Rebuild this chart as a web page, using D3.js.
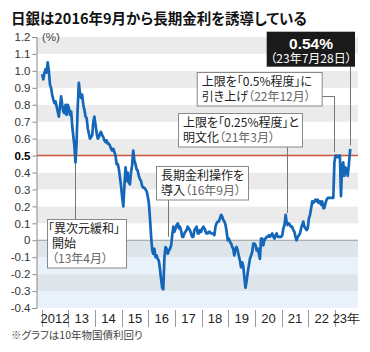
<!DOCTYPE html>
<html><head><meta charset="utf-8">
<script src="https://cdn.jsdelivr.net/npm/d3@7"></script>
<style>
body{margin:0;background:#fff;}
svg{display:block;font-family:"Noto Sans CJK JP","Liberation Sans",sans-serif;}
.jp{font-feature-settings:"palt";}
</style></head><body>
<svg id="c" width="370" height="352"></svg>
<script>
// ---- data ----
const titleText = "日銀は2016年9月から長期金利を誘導している";
const noteText = "※グラフは10年物国債利回り";
const yearLabels = ["2012","13","14","15","16","17","18","19","20","21","22","23年"];
const yTickValues = [1.2,1.1,1.0,0.9,0.8,0.7,0.6,0.5,0.4,0.3,0.2,0.1,0,-0.1,-0.2,-0.3,-0.4];
const yTickLabels = ["1.2","1.1","1.0","0.9","0.8","0.7","0.6","0.5","0.4","0.3","0.2","0.1","0","-0.1","-0.2","-0.3","-0.4"];
const capValue = 0.5;
// half-monthly 10y JGB yield (%)
const y2012 = [0.98,0.95,0.99,1.01,0.99,1.05,1.00,0.92,0.90,0.86,0.83,0.81,0.82,0.79,0.76,0.73,0.79,0.85,0.80,0.76,0.75,0.80,0.74,0.80];
const y2013 = [0.78,0.74,0.76,0.67,0.62,0.56,0.46,0.58,0.78,0.93,0.87,0.84,0.86,0.80,0.77,0.73,0.72,0.66,0.63,0.60,0.61,0.62,0.70,0.73];
const y2014 = [0.68,0.63,0.60,0.61,0.63,0.64,0.62,0.61,0.59,0.58,0.59,0.57,0.57,0.56,0.54,0.53,0.54,0.52,0.50,0.45,0.45,0.42,0.37,0.32];
const y2015 = [0.25,0.20,0.33,0.43,0.35,0.40,0.34,0.33,0.40,0.44,0.53,0.47,0.45,0.42,0.41,0.38,0.36,0.35,0.32,0.31,0.31,0.30,0.29,0.26];
const y2016 = [0.22,0.13,0.02,-0.06,-0.08,-0.05,-0.10,-0.09,-0.11,-0.12,-0.17,-0.23,-0.28,-0.29,-0.10,-0.04,-0.05,-0.08,-0.06,-0.05,-0.03,0.03,0.08,0.05];
const y2017 = [0.07,0.09,0.10,0.07,0.08,0.06,0.02,0.02,0.04,0.05,0.06,0.08,0.07,0.06,0.04,0.02,0.02,0.06,0.07,0.08,0.04,0.04,0.06,0.05];
const y2018 = [0.07,0.08,0.07,0.05,0.04,0.04,0.05,0.05,0.04,0.04,0.04,0.03,0.08,0.10,0.11,0.11,0.13,0.15,0.14,0.12,0.11,0.09,0.05,0.00];
const y2019 = [0.01,-0.01,-0.02,-0.04,-0.05,-0.09,-0.05,-0.04,-0.06,-0.09,-0.12,-0.16,-0.13,-0.15,-0.22,-0.28,-0.24,-0.19,-0.15,-0.11,-0.09,-0.07,-0.02,-0.02];
const y2020 = [-0.03,-0.06,-0.05,-0.08,-0.11,0.01,0.01,-0.03,0.00,0.01,0.02,0.02,0.03,0.02,0.03,0.04,0.02,0.01,0.03,0.04,0.02,0.02,0.02,0.02];
const y2021 = [0.03,0.07,0.09,0.15,0.11,0.09,0.10,0.09,0.08,0.08,0.06,0.05,0.02,0.00,0.02,0.03,0.04,0.07,0.09,0.11,0.08,0.07,0.06,0.07];
const y2022 = [0.13,0.15,0.19,0.23,0.22,0.23,0.24,0.23,0.24,0.22,0.23,0.21,0.23,0.19,0.19,0.22,0.24,0.25,0.25,0.25,0.25,0.25,0.25,0.46];
const y2023 = [0.50,0.50,0.49,0.50,0.50,0.26,0.44,0.46,0.38,0.43,0.42,0.38,0.44,0.54];
const yearly = [y2012,y2013,y2014,y2015,y2016,y2017,y2018,y2019,y2020,y2021,y2022,y2023];
const lastDate = new Date(2023,6,28);

const notes = [
  {box:[47,219,79], lines:[["「異次元緩和」",""],["開始",""],["","（13年4月）"]], date:new Date(2013,3,5), value:0.47, kind:"up"},
  {box:[156,166,92], lines:[["長期金利操作を",""],["導入","（16年9月）"]], date:new Date(2016,8,21), value:0.02, kind:"down"},
  {box:[178,113,124], lines:[["上限を「0.25%程度」と",""],["明文化","（21年3月）"]], date:new Date(2021,2,19), value:0.16, kind:"down"},
  {box:[196.7,72,125], lines:[["上限を「0.5%程度」に",""],["引き上げ","（22年12月）"]], date:new Date(2022,11,20), value:0.52, kind:"side"}
];
const highlight = {value:"0.54%", date:"（23年7月28日）", when:lastDate, v:0.56};

// ---- build series ----
const series = [];
yearly.forEach((arr, yi) => {
  arr.forEach((v, i) => {
    let d = new Date(2012 + yi, Math.floor(i/2), i % 2 ? 23 : 8);
    if (yi === yearly.length - 1 && i === arr.length - 1) d = lastDate;
    series.push({d, v});
  });
});

const svg = d3.select("#c");
const L = 37, R = 358, T = 37, B = 308;
const LS = 15; // line spacing in boxes
const x = d3.scaleTime().domain([new Date(2012,0,1), new Date(2024,0,1)]).range([41.7, 361.7]);
const y = d3.scaleLinear().domain([-0.4, 1.2]).range([B, T]);

// bands
const bandStarts = d3.range(-4, 12).map(k => k/10);
svg.append("g").selectAll("rect").data(bandStarts).join("rect")
  .attr("x", L).attr("width", R - L)
  .attr("y", d => y(d + 0.1)).attr("height", d => y(d) - y(d + 0.1))
  .attr("fill", d => {
    const k = Math.round(d*10);
    if (k < 0) return (Math.abs(k) % 2 === 1) ? "#dde4ea" : "#e9f2fa";
    return (k % 2 === 1) ? "#ebebeb" : "#ffffff";
  });

// zero line
svg.append("line").attr("x1", L).attr("x2", R).attr("y1", y(0)).attr("y2", y(0))
  .attr("stroke", "#999").attr("stroke-width", 1);

// y axis
const yAxis = d3.axisLeft(y).tickValues(yTickValues).tickSize(4).tickPadding(2)
  .tickFormat((d,i) => yTickLabels[i]);
const gy = svg.append("g").attr("transform", `translate(${L - 0.5},0)`).call(yAxis);
gy.select(".domain").attr("stroke", "#888");
gy.selectAll(".tick line").attr("stroke", "#888");
gy.selectAll(".tick text")
  .style("font-family", "'Liberation Sans',Arial,sans-serif").style("font-size", "11.5px")
  .style("font-weight", d => d === capValue ? "bold" : "normal")
  .attr("fill", d => d === capValue ? "#000" : "#333");

svg.append("text").attr("x", 42).attr("y", y(1.2) + 4).attr("fill", "#444")
  .style("font-family", "'Liberation Sans',Arial,sans-serif").style("font-size", "11.5px").text("(%)");

// x axis
const yearStarts = yearLabels.map((_, i) => new Date(2012 + i, 0, 1));
const gx = svg.append("g");
gx.selectAll("line").data(yearStarts).join("line")
  .attr("x1", d => Math.round(x(d)) + 0.5).attr("x2", d => Math.round(x(d)) + 0.5)
  .attr("y1", 310).attr("y2", 327).attr("stroke", "#999");
gx.selectAll("text").data(yearLabels).join("text")
  .attr("x", (d,i) => (x(new Date(2012+i,0,1)) + x(new Date(2013+i,0,1)))/2 - (i === 11 ? 2 : 0))
  .attr("y", 323).attr("text-anchor", "middle").attr("fill", "#222")
  .style("font-family", "'Liberation Sans Narrow','Liberation Sans',Arial,sans-serif")
  .style("font-size", "13px").text(d => d);

// cap line
svg.append("line").attr("x1", L).attr("x2", R).attr("y1", y(capValue)).attr("y2", y(capValue))
  .attr("stroke", "#c9553a").attr("stroke-width", 1.5);

// annotation connectors
const boxH = n => 14 + (n.lines.length - 1) * LS + 4.5;
const conn = svg.append("g").attr("stroke", "#777").attr("fill", "none").attr("stroke-width", 1);
notes.forEach(n => {
  const [bx, by, bw] = n.box;
  const bh = boxH(n);
  const xx = Math.round(x(n.date)) + 0.5;
  if (n.kind === "up") conn.append("line").attr("x1", xx).attr("x2", xx).attr("y1", by).attr("y2", y(n.value));
  if (n.kind === "down") conn.append("line").attr("x1", xx).attr("x2", xx).attr("y1", by + bh).attr("y2", y(n.value));
  if (n.kind === "side") conn.append("path").attr("d", `M${bx + bw},${by + 24.5}H${xx}V${y(n.value)}`);
});
const hx = Math.round(x(highlight.when)) + 0.5;
conn.append("line").attr("x1", hx).attr("x2", hx).attr("y1", 66.7).attr("y2", y(highlight.v));

// line
svg.append("path").datum(series)
  .attr("d", d3.line().x(d => x(d.d)).y(d => y(d.v)))
  .attr("fill", "none").attr("stroke", "#1466b8").attr("stroke-width", 2.7)
  .attr("stroke-linejoin", "round");

// boxes (one text element per box, lines as tspans)
notes.forEach(n => {
  const [bx, by, bw] = n.box;
  const bh = boxH(n);
  const g = svg.append("g");
  g.append("rect").attr("x", bx + 0.5).attr("y", by + 0.5).attr("width", bw).attr("height", bh)
    .attr("fill", "#fff").attr("stroke", "#888");
  const t = g.append("text").attr("class", "jp").style("font-size", "12px");
  n.lines.forEach((ln, i) => {
    const lx = bx + 5 + (ln[0].startsWith("「") ? -4 : 0);
    const ly = by + 14 + i * LS;
    let first = true;
    if (ln[0]) { t.append("tspan").attr("x", lx).attr("y", ly).attr("fill", "#222").text(ln[0]); first = false; }
    if (ln[1]) {
      const s = t.append("tspan").attr("fill", "#666").text(ln[1]);
      if (first) s.attr("x", lx).attr("y", ly);
    }
  });
});

// highlight box
svg.append("rect").attr("x", 266.7).attr("y", 31.7).attr("width", 88.3).attr("height", 35).attr("fill", "#1a1a1a");
const ht = svg.append("text").attr("text-anchor", "middle").attr("fill", "#fff");
ht.append("tspan").attr("x", 311).attr("y", 48.5)
  .style("font-size", "15.5px").style("font-weight", "bold")
  .style("font-family", "'Liberation Sans',Arial,sans-serif").text(highlight.value);
ht.append("tspan").attr("class", "jp").attr("x", 311).attr("y", 63)
  .style("font-size", "12px").text(highlight.date);

// title & note
svg.append("text").attr("class", "jp").attr("x", 11).attr("y", 24).attr("fill", "#111")
  .style("font-size", "14.5px").style("font-weight", "bold").text(titleText);
svg.append("text").attr("class", "jp").attr("x", 11).attr("y", 339).attr("fill", "#444")
  .style("font-size", "10.5px").text(noteText);
</script>
</body></html>
